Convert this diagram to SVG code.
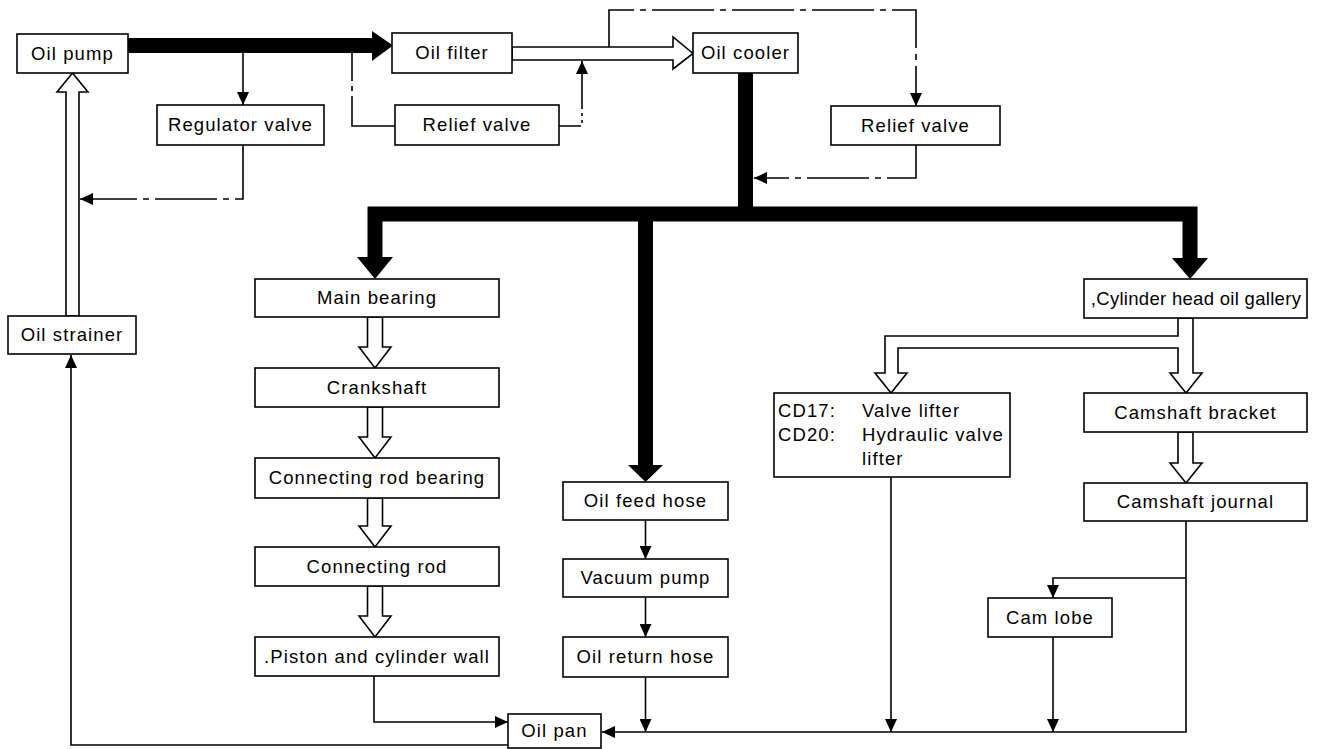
<svg xmlns="http://www.w3.org/2000/svg" width="1317" height="749" viewBox="0 0 1317 749">
  <style>
    .box { fill: #fff; stroke: #000; stroke-width: 1.6; }
    .lbl { font-family: "Liberation Sans", Arial, sans-serif; font-size: 18.5px; letter-spacing: 1.1px; fill: #000; text-anchor: middle; }
    .lft { text-anchor: start; }
    .tight { letter-spacing: 0.3px; }
    .main { fill: none; stroke: #000; stroke-width: 15; stroke-linejoin: miter; stroke-linecap: butt; }
    .head { fill: #000; stroke: none; }
    .hollow { fill: #fff; stroke: #000; stroke-width: 1.6; stroke-linejoin: miter; }
    .thin { fill: none; stroke: #000; stroke-width: 1.6; }
    .pilot { fill: none; stroke: #000; stroke-width: 1.6; stroke-dasharray: 62 6 6 6; }
    .pilot-a { stroke-dasharray: 28 5 5 5 300; }
    .pilot-b { stroke-dasharray: 22 4 3 4 3 4 300; }
  </style>
  <defs>
    <marker id="arr" markerUnits="userSpaceOnUse" markerWidth="14" markerHeight="12" refX="13" refY="6" orient="auto">
      <path d="M0,0 L13,6 L0,12 Z" fill="#000"/>
    </marker>
  </defs>
  <rect width="1317" height="749" fill="#fff"/>

  <g id="connectors">
    <!-- main pressure feed (heavy lines) -->
    <path class="main" d="M128,45.5 H373"/>
    <polygon class="head" points="372,31 393,45.5 372,61"/>
    <path class="main" d="M745.5,73 V214"/>
    <path class="main" d="M375,258 V214 H1190 V259"/>
    <path class="main" d="M645.5,214 V466"/>
    <polygon class="head" points="357,257 393,257 375,279"/>
    <polygon class="head" points="628,465 663,465 645.5,482"/>
    <polygon class="head" points="1172,258 1208,258 1190,279"/>

    <!-- hollow (filtered / splash) flow arrows -->
    <path class="hollow" d="M66,316 V92 H57 L72.5,73 L88,92 H79 V316 Z"/>
    <path class="hollow" d="M512,47 H673 V37 L693,53.5 L673,69 V60 H512 Z"/>
    <path class="hollow" d="M367.5,317 V347 H359 L375,368 L391,347 H382.5 V317 Z"/>
    <path class="hollow" d="M367.5,407 V437 H359 L375,458 L391,437 H382.5 V407 Z"/>
    <path class="hollow" d="M367.5,498 V526 H359 L375,547 L391,526 H382.5 V498 Z"/>
    <path class="hollow" d="M367.5,586 V616 H359 L375,637 L391,616 H382.5 V586 Z"/>
    <path class="hollow" d="M1178,318 V336 H885 V373 H875 L891,393 L907,373 H898 V348 H1178 V373 H1170 L1186,393 L1202,373 H1193 V318 Z"/>
    <path class="hollow" d="M1178,432 V463 H1170 L1186,483 L1202,463 H1193 V432 Z"/>

    <!-- regulator and relief valve by-pass lines -->
    <path class="thin" d="M243,53 V105" marker-end="url(#arr)"/>
    <path class="pilot" d="M243,145 V199 H80" marker-end="url(#arr)"/>
    <path class="pilot pilot-a" d="M352,53 V126 H395"/>
    <path class="pilot pilot-b" d="M559,126 H582 V61" marker-end="url(#arr)"/>
    <path class="pilot" d="M609,47 V10 H916 V106" marker-end="url(#arr)"/>
    <path class="pilot" d="M916,145 V178 H754" marker-end="url(#arr)"/>

    <!-- vacuum pump branch -->
    <path class="thin" d="M645.5,520 V559" marker-end="url(#arr)"/>
    <path class="thin" d="M645.5,597 V637" marker-end="url(#arr)"/>
    <path class="thin" d="M645.5,677 V732" marker-end="url(#arr)"/>

    <!-- returns to oil pan -->
    <path class="thin" d="M1186,521 V732 H602" marker-end="url(#arr)"/>
    <path class="thin" d="M1186,578 H1053 V598" marker-end="url(#arr)"/>
    <path class="thin" d="M1053,637 V732" marker-end="url(#arr)"/>
    <path class="thin" d="M891,477 V732" marker-end="url(#arr)"/>
    <path class="thin" d="M374,676 V722 H508" marker-end="url(#arr)"/>
    <path class="thin" d="M508,745 H71 V355" marker-end="url(#arr)"/>
  </g>

  <g id="oil-pump"><rect class="box" x="17" y="34" width="111" height="39"/><text class="lbl" x="72.5" y="60">Oil pump</text></g>
  <g id="regulator-valve"><rect class="box" x="157" y="105" width="167" height="40"/><text class="lbl" x="240.5" y="131">Regulator valve</text></g>
  <g id="oil-filter"><rect class="box" x="392" y="33" width="120" height="40"/><text class="lbl" x="452" y="59">Oil filter</text></g>
  <g id="relief-valve-1"><rect class="box" x="395" y="105" width="164" height="40"/><text class="lbl" x="477" y="131">Relief valve</text></g>
  <g id="oil-cooler"><rect class="box" x="693" y="33" width="105" height="40"/><text class="lbl" x="745.5" y="59">Oil cooler</text></g>
  <g id="relief-valve-2"><rect class="box" x="831" y="106" width="169" height="39"/><text class="lbl" x="915.5" y="132">Relief valve</text></g>
  <g id="oil-strainer"><rect class="box" x="8" y="316" width="128" height="38"/><text class="lbl" x="72" y="341">Oil strainer</text></g>

  <g id="main-bearing"><rect class="box" x="255" y="279" width="244" height="38"/><text class="lbl" x="377" y="304">Main bearing</text></g>
  <g id="crankshaft"><rect class="box" x="255" y="368" width="244" height="39"/><text class="lbl" x="377" y="394">Crankshaft</text></g>
  <g id="connecting-rod-bearing"><rect class="box" x="255" y="458" width="244" height="40"/><text class="lbl" x="377" y="484">Connecting rod bearing</text></g>
  <g id="connecting-rod"><rect class="box" x="255" y="547" width="244" height="39"/><text class="lbl" x="377" y="573">Connecting rod</text></g>
  <g id="piston-cylinder-wall"><rect class="box" x="255" y="637" width="244" height="39"/><text class="lbl" x="377" y="663">.Piston and cylinder wall</text></g>

  <g id="oil-feed-hose"><rect class="box" x="563" y="482" width="165" height="38"/><text class="lbl" x="645.5" y="507">Oil feed hose</text></g>
  <g id="vacuum-pump"><rect class="box" x="563" y="559" width="165" height="38"/><text class="lbl" x="645.5" y="584">Vacuum pump</text></g>
  <g id="oil-return-hose"><rect class="box" x="563" y="637" width="165" height="40"/><text class="lbl" x="645.5" y="663">Oil return hose</text></g>
  <g id="oil-pan"><rect class="box" x="508" y="714" width="93" height="34"/><text class="lbl" x="554.5" y="737">Oil pan</text></g>

  <g id="cylinder-head-oil-gallery"><rect class="box" x="1084" y="279" width="223" height="39"/><text class="lbl tight" x="1196" y="305">,Cylinder head oil gallery</text></g>
  <g id="valve-lifter">
    <rect class="box" x="774" y="393" width="236" height="84"/>
    <text class="lbl lft" x="778" y="417">CD17:</text><text class="lbl lft" x="862" y="417">Valve lifter</text>
    <text class="lbl lft" x="778" y="441">CD20:</text><text class="lbl lft" x="862" y="441">Hydraulic valve</text>
    <text class="lbl lft" x="862" y="465">lifter</text>
  </g>
  <g id="camshaft-bracket"><rect class="box" x="1084" y="393" width="223" height="39"/><text class="lbl" x="1195.5" y="419">Camshaft bracket</text></g>
  <g id="camshaft-journal"><rect class="box" x="1084" y="483" width="223" height="38"/><text class="lbl" x="1195.5" y="508">Camshaft journal</text></g>
  <g id="cam-lobe"><rect class="box" x="988" y="598" width="124" height="39"/><text class="lbl" x="1050" y="624">Cam lobe</text></g>
</svg>
